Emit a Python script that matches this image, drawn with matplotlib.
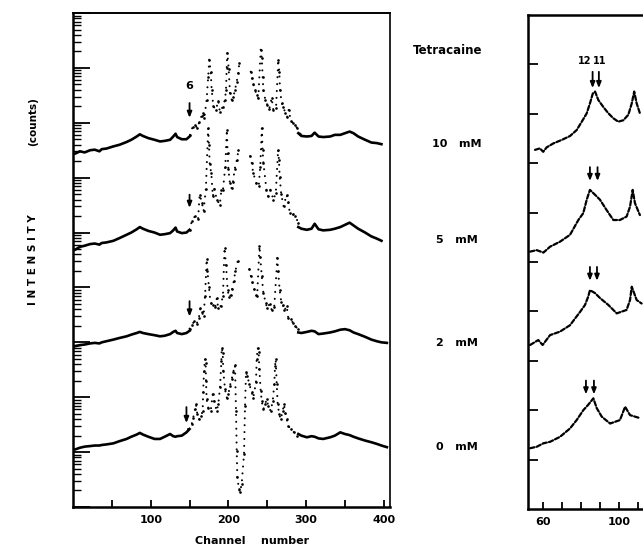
import numpy as np
import matplotlib
matplotlib.use("Agg")
import matplotlib.pyplot as plt
from matplotlib.ticker import LogLocator, NullFormatter, FixedLocator, FuncFormatter

nan = np.nan

# ---------------- data (log10 of counts) ----------------
concentrations = ["10 mM", "5 mM", "2 mM", "0 mM"]

left_wing_ch = [3, 9, 15, 22, 28, 34, 37, 43, 52, 60, 69, 75, 82, 86, 90, 97, 105,
                112, 118, 125, 129, 132, 134, 140, 146, 150]
right_wing_ch = [290, 294, 301, 307, 311, 316, 322, 331, 337, 344, 350, 356, 361,
                 367, 376, 384, 391, 397, 404]

left_10 = [6.44, 6.48, 6.46, 6.50, 6.51, 6.48, 6.52, 6.53, 6.57, 6.60, 6.65, 6.69, 6.75,
           6.79, 6.76, 6.72, 6.69, 6.66, 6.67, 6.69, 6.75, 6.80, 6.74, 6.70, 6.70, 6.75]
left_5 = [4.69, 4.74, 4.76, 4.79, 4.80, 4.78, 4.81, 4.82, 4.85, 4.90, 4.96, 5.00, 5.06,
          5.10, 5.07, 5.03, 5.00, 4.96, 4.97, 4.99, 5.04, 5.09, 5.02, 4.99, 5.00, 5.05]
left_2 = [2.93, 2.95, 2.96, 2.98, 2.99, 2.98, 3.00, 3.02, 3.05, 3.08, 3.11, 3.14, 3.17,
          3.19, 3.17, 3.15, 3.13, 3.11, 3.12, 3.15, 3.19, 3.21, 3.17, 3.15, 3.17, 3.21]
left_0 = [1.05, 1.08, 1.10, 1.11, 1.12, 1.12, 1.13, 1.14, 1.16, 1.20, 1.24, 1.28, 1.32,
          1.35, 1.32, 1.28, 1.24, 1.24, 1.28, 1.33, 1.29, 1.28, 1.29, 1.30, 1.36, 1.42]

right_10 = [6.81, 6.76, 6.75, 6.76, 6.82, 6.75, 6.74, 6.75, 6.78, 6.78, 6.81, 6.84, 6.81,
            6.75, 6.69, 6.64, 6.63, 6.61, nan]
right_5 = [5.10, 5.07, 5.05, 5.07, 5.16, 5.06, 5.04, 5.05, 5.07, 5.10, 5.14, 5.18, 5.13,
           5.07, 5.00, 4.93, 4.89, 4.85, nan]
right_2 = [3.18, 3.17, 3.19, 3.21, 3.20, 3.15, 3.16, 3.18, 3.20, 3.23, 3.24, 3.22, 3.18,
           3.15, 3.10, 3.05, 3.02, 3.00, 2.99]
right_0 = [1.33, 1.30, 1.27, 1.29, 1.28, 1.25, 1.24, 1.27, 1.30, 1.36, 1.33, 1.31, 1.28,
           1.25, 1.21, 1.18, 1.15, 1.12, 1.09]

dots10_ch = [150.6, 154, 157, 160, 162.6, 165.6, 167.7, 169, 172, 174, 175.4, 177.2, 178.5,
             180.6, 184, 187, 189, 192.6, 195.6, 196.9, 197.8, 198.6, 200.4, 202, 204.2,
             206.3, 208.5, 210.7, 212.7, 214, nan, 228.7, 230.4, 232, 234.2, 236.4, 238.5,
             241.6, 242.9, 244.1, 245, 247.5, 250, 252.6, 255.7, 257.8, 261.3, 264.2, 265.5,
             266.4, 268.6, 270.7, 273.2, 275.8, 277.6, 280.2, 282.8, 285.7, 288.7, 292]
dots10 = [6.78, 6.93, 6.96, 6.90, 7.02, 7.13, 7.18, 7.08, 7.42, 7.84, 8.15, 7.93, 7.60,
          7.30, 7.24, 7.40, 7.20, 7.29, 7.42, 7.60, 8.00, 8.28, 7.98, 7.54, 7.42,
          7.47, 7.60, 7.75, 7.90, 8.09, nan, 7.93, 7.81, 7.71, 7.60, 7.51, 7.45,
          8.33, 8.18, 7.84, 7.60, 7.42, 7.33, 7.25, 7.45, 7.24, 7.27, 8.15, 7.93,
          7.60, 7.36, 7.29, 7.18, 7.11, 7.24, 7.04, 7.00, 6.96, 6.90, 6.80]

dots5_ch = [150, 153, 157, 161, 163, 166, 168, 171, 174, 175, 176, 178, 180, 182, 185, 189,
            191, 193, 196, 198, 199, 200, 202, 204, 206, 208, 211, 213, nan, 228, 230, 232,
            236, 239, 241, 243, 244, 245, 249, 251, 254, 258, 261, 264, 265, 266, 268, 271,
            275, 277, 279, 283, 286, 290]
dots5 = [5.05, 5.21, 5.30, 5.24, 5.69, 5.54, 5.39, 5.80, 6.90, 6.60, 6.24, 6.08, 5.66, 5.80,
         5.60, 5.51, 5.78, 5.78, 6.20, 6.87, 6.45, 6.15, 5.90, 5.81, 5.93, 6.15, 6.33, 6.51,
         nan, 6.39, 6.27, 6.08, 5.90, 5.84, 6.20, 6.90, 6.50, 6.27, 5.78, 5.66, 5.78, 5.60,
         5.72, 6.51, 6.33, 6.02, 5.70, 5.48, 5.69, 5.55, 5.36, 5.33, 5.30, 5.18]

dots2_ch = [150, 153, 156, 159, 162, 164, 166, 168, 170, 172, 173, 175, 177, 180, 183, 185,
            187, 190, 193, 195, 197, 199, 201, 203, 205, 207, 209, 212, nan, 227, 229, 231,
            233, 235, 237, 240, 241, 243, 245, 248, 250, 253, 256, 259, 263, 264, 266, 268,
            270, 272, 275, 277, 280, 283, 286, 289]
dots2 = [3.25, 3.32, 3.38, 3.33, 3.45, 3.62, 3.55, 3.48, 3.85, 4.51, 4.30, 4.00, 3.72, 3.68,
         3.64, 3.80, 3.62, 3.66, 3.85, 4.72, 4.40, 3.95, 3.82, 3.86, 3.98, 4.12, 4.30, 4.48,
         nan, 4.33, 4.20, 4.10, 3.98, 3.86, 3.84, 4.75, 4.55, 4.20, 3.90, 3.72, 3.62, 3.70,
         3.58, 3.64, 4.54, 4.30, 3.95, 3.74, 3.68, 3.58, 3.66, 3.45, 3.42, 3.36, 3.30, 3.25]

dots0_ch = [148.4, 152.7, 154.8, 157, 158.3, 160, 162.6, 164.7, 166.9, 167.5, 168.6, 169.9,
            170.7, 171.2, 172, 174.1, 177.2, 179.8, 181.5, 184.9, 187, 189.2, 191.0, 191.4,
            192.7, 193.4, 195.6, 197.8, 199.9, 202, 204.2, 206.3, 208.5, 209.8, 210.7, 211.5,
            213.6, 214.9, 217.1, 220.1, 221.4, 222.7, 224.3, 226.9, 230, 232, 235.5, 236.4,
            237.7, 239, 239.8, 241.6, 242.9, 245, 247.1, 249.3, 251.4, 254.4, 257, 259.1,
            260, 260.9, 262.2, 263.4, 265.5, 267.3, 269.9, 271.6, 273.2, 275, 277.1, 280.2,
            284.4, 288]
dots0 = [1.42, 1.51, 1.63, 1.78, 1.87, 1.69, 1.60, 1.65, 1.75, 2.09, 2.48, 2.70,
         2.63, 2.30, 1.96, 1.81, 1.75, 2.05, 1.93, 1.75, 1.87, 2.18, 2.66, 2.90,
         2.81, 2.48, 2.15, 1.99, 2.05, 2.21, 2.33, 2.46, 2.58, 1.75, 1.02, 0.54,
         0.33, 0.27, 0.42, 0.96, 1.84, 2.46, 2.39, 2.24, 2.09, 1.99, 2.27, 2.69,
         2.90, 2.82, 2.51, 2.11, 1.93, 1.78, 1.87, 1.96, 1.84, 1.75, 1.93, 2.24,
         2.57, 2.69, 2.24, 1.87, 1.69, 1.60, 1.75, 1.87, 1.72, 1.60, 1.48, 1.42,
         1.36, 1.30]

# arrows on left panel: channel, tail, head (log10)
arrow_ch = [150, 150, 150, 146]
arrow_tail = [7.36, 5.69, 3.75, 1.82]
arrow_head = [7.09, 5.45, 3.47, 1.53]

# ---------------- right panel data (linear units) ----------------
rp10_x = [55.8, 58.4, 60.1, 61.9, 65.4, 69.8, 74.2, 77.7, 80.4, 83.0, 84.7, 86.2, 87.4,
          89.1, 91.7, 94.4, 97.0, 99.6, 102.3, 104.9, 106.7, 108.0, 109.3, 111.0]
rp10 = [7.27, 7.30, 7.23, 7.32, 7.40, 7.47, 7.55, 7.67, 7.84, 8.01, 8.21, 8.41, 8.45,
        8.28, 8.14, 8.01, 7.91, 7.84, 7.87, 7.98, 8.21, 8.45, 8.21, 8.01]
rp5_x = [53.2, 56.7, 60.2, 63.7, 68.9, 74.2, 78.6, 81.2, 83.0, 84.7, 87.4, 90.0, 93.5,
         97.0, 100.5, 104.0, 105.8, 107.2, 108.4, 111.0]
rp5 = [5.21, 5.24, 5.19, 5.31, 5.41, 5.55, 5.85, 5.99, 6.26, 6.46, 6.36, 6.26, 6.05,
       5.85, 5.85, 5.92, 6.12, 6.46, 6.19, 5.95]
rp2_x = [53.2, 57.5, 59.8, 63.7, 68.9, 74.2, 79.5, 82.1, 83.8, 84.7, 87.4, 90.0, 94.4,
         98.8, 104.0, 105.8, 106.7, 109.3, 111.9]
rp2 = [3.32, 3.42, 3.32, 3.52, 3.59, 3.72, 3.99, 4.13, 4.30, 4.43, 4.37, 4.27, 4.13,
       3.96, 4.03, 4.23, 4.50, 4.23, 4.16]
rp0_x = [53.2, 56.7, 60.2, 63.7, 68.9, 74.2, 77.7, 81.2, 83.8, 86.5, 88.3, 90.9, 95.3,
         100.5, 103.2, 105.8, 111.0]
rp0 = [1.23, 1.26, 1.33, 1.36, 1.46, 1.63, 1.80, 2.00, 2.11, 2.24, 2.04, 1.87, 1.73,
       1.80, 2.07, 1.90, 1.84]

# arrows on right panel: (x of line 12, x of line 11), tail, head
rp_arrow12 = [86.1, 84.7, 84.7, 82.6]
rp_arrow11 = [89.4, 88.7, 88.4, 86.8]
rp_arrow_tail = [8.85, 6.92, 4.90, 2.60]
rp_arrow_head = [8.52, 6.64, 4.62, 2.32]
rp_line_labels = ["12", "11"]

# ---------------- drawing ----------------
W, H = 643, 556
fig = plt.figure(figsize=(W / 100, H / 100), dpi=100)
fig.patch.set_facecolor("white")

FONT = dict(family="DejaVu Sans", fontweight="bold", color="black")

def px_axes(x0, y0, x1, y1):
    return fig.add_axes([x0 / W, 1 - y1 / H, (x1 - x0) / W, (y1 - y0) / H])

axL = px_axes(73, 13, 390, 507)
axL.set_yscale("log")
axL.set_xlim(0, 408)
axL.set_ylim(1, 1e9)

def P(v):
    return np.power(10.0, np.array(v, dtype=float))

for lw_vals, rw_vals in [(left_10, right_10), (left_5, right_5), (left_2, right_2), (left_0, right_0)]:
    axL.plot(left_wing_ch, P(lw_vals), color="black", lw=1.9, solid_joinstyle="round")
    axL.plot(right_wing_ch, P(rw_vals), color="black", lw=1.9, solid_joinstyle="round")

for ch, v in [(dots10_ch, dots10), (dots5_ch, dots5), (dots2_ch, dots2), (dots0_ch, dots0)]:
    axL.plot(ch, P(v), color="black", lw=1.5, ls=(0, (0.01, 3.3)), dash_capstyle="round",
             marker="o", ms=1.9, mec="none", mfc="black")

for c, t, h in zip(arrow_ch, arrow_tail, arrow_head):
    axL.annotate("", xy=(c, 10 ** h), xytext=(c, 10 ** t),
                 arrowprops=dict(arrowstyle="-|>,head_length=0.35,head_width=0.14",
                                 color="black", lw=1.3, shrinkA=0, shrinkB=0))
axL.text(arrow_ch[0], 10 ** 7.67, "6", ha="center", va="center", fontsize=8, **FONT)

axL.yaxis.set_major_locator(LogLocator(base=10, numticks=20))
axL.yaxis.set_minor_locator(LogLocator(base=10, subs=np.arange(2, 10), numticks=20))
axL.yaxis.set_major_formatter(NullFormatter())
axL.yaxis.set_minor_formatter(NullFormatter())
axL.tick_params(axis="y", which="major", direction="in", length=12, width=1.3, right=False)
axL.tick_params(axis="y", which="minor", direction="in", length=6, width=1.0, right=False)
axL.xaxis.set_major_locator(FixedLocator([50, 100, 150, 200, 250, 300, 350, 400]))
axL.xaxis.set_major_formatter(FuncFormatter(lambda v, p: f"{int(v)}" if v % 100 == 0 else ""))
axL.tick_params(axis="x", which="major", direction="in", length=5, width=1.3, pad=6,
                labelsize=8, top=False)
axL.xaxis.set_minor_locator(FixedLocator([]))
for lab in axL.get_xticklabels():
    lab.set_fontweight("bold")
for s in axL.spines.values():
    s.set_linewidth(1.8)
axL.spines["top"].set_linewidth(1.4)
axL.spines["right"].set_linewidth(1.2)

# right panel
axR = px_axes(528, 15, 528 + (140 - 52.1) * 1.9, 509)
axR.set_xlim(52.1, 140)
axR.set_ylim(0, 10)
for x, v in [(rp10_x, rp10), (rp5_x, rp5), (rp2_x, rp2), (rp0_x, rp0)]:
    axR.plot(x, v, color="black", lw=1.6, ls=(0, (2.0, 1.0)), dash_capstyle="round")
for a12, a11, t, h in zip(rp_arrow12, rp_arrow11, rp_arrow_tail, rp_arrow_head):
    for xa in (a12, a11):
        axR.annotate("", xy=(xa, h), xytext=(xa, t),
                     arrowprops=dict(arrowstyle="-|>,head_length=0.35,head_width=0.14",
                                     color="black", lw=1.3, shrinkA=0, shrinkB=0))
axR.text(82.0, rp_arrow_tail[0] + 0.22, rp_line_labels[0], ha="center", va="center", fontsize=7, **FONT)
axR.text(89.8, rp_arrow_tail[0] + 0.22, rp_line_labels[1], ha="center", va="center", fontsize=7, **FONT)
axR.yaxis.set_major_locator(FixedLocator(list(range(1, 10))))
axR.yaxis.set_major_formatter(NullFormatter())
axR.tick_params(axis="y", direction="in", length=7, width=1.3, right=False)
axR.xaxis.set_major_locator(FixedLocator(list(range(60, 141, 10))))
axR.xaxis.set_major_formatter(FuncFormatter(lambda v, p: f"{int(round(v))}" if int(round(v)) in (60, 100) else ""))
axR.tick_params(axis="x", direction="in", length=5, width=1.3, pad=6, labelsize=8, top=False)
for lab in axR.get_xticklabels():
    lab.set_fontweight("bold")
for s in axR.spines.values():
    s.set_linewidth(1.8)
axR.spines["right"].set_visible(False)

# texts
fig.text(448 / W, 1 - 51 / H, "Tetracaine", ha="center", va="center", fontsize=8.5, **FONT)
for lab, yy in zip(concentrations, [144, 240, 343, 447]):
    fig.text(457 / W, 1 - yy / H, lab.replace(" ", "   "), ha="center", va="center", fontsize=8, **FONT)
fig.text(33 / W, 1 - 260 / H, "I N T E N S I T Y", rotation=90, ha="center", va="center", fontsize=7.5, **FONT)
fig.text(33 / W, 1 - 122 / H, "(counts)", rotation=90, ha="center", va="center", fontsize=7.5, **FONT)
fig.text(252 / W, 1 - 541 / H, "Channel    number", ha="center", va="center", fontsize=8, **FONT)

fig.savefig("out.png", dpi=100, facecolor="white")
